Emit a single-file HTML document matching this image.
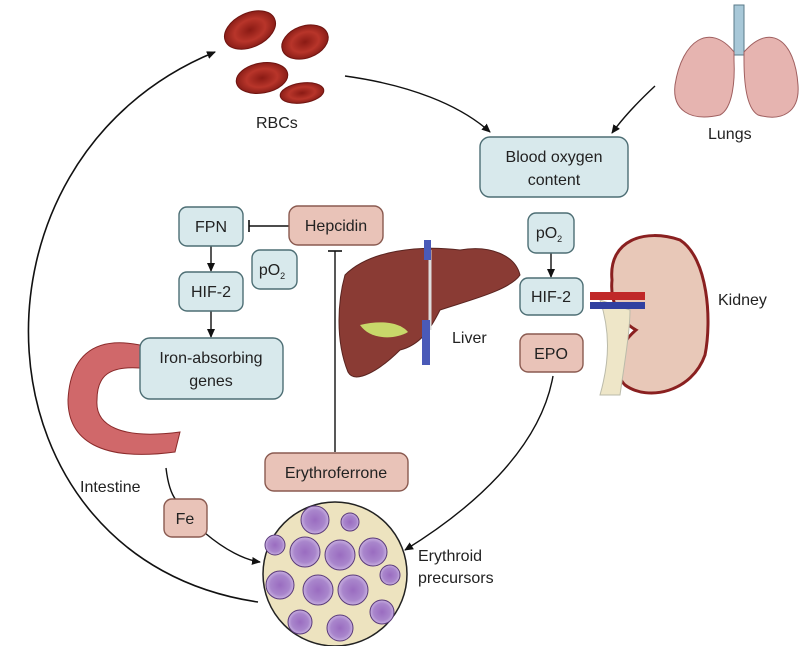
<!DOCTYPE html>
<html><head><style>
body{margin:0;background:#fff;}
svg text{font-family:"Liberation Sans",sans-serif;fill:#222;}
</style></head><body>
<svg width="800" height="646" viewBox="0 0 800 646" xmlns="http://www.w3.org/2000/svg">
<defs>
<marker id="a" markerWidth="10" markerHeight="10" refX="8" refY="5" orient="auto" markerUnits="userSpaceOnUse"><path d="M0,1 L9,5 L0,9 Z" fill="#111"/></marker>
<radialGradient id="rbc" cx="50%" cy="50%" r="50%"><stop offset="0" stop-color="#8a1a14"/><stop offset="0.6" stop-color="#b8352a"/><stop offset="1" stop-color="#8a1e18"/></radialGradient>
<radialGradient id="cell" cx="50%" cy="50%" r="50%"><stop offset="0" stop-color="#9a6cc0"/><stop offset="0.7" stop-color="#a986cc"/><stop offset="1" stop-color="#c8b0e0"/></radialGradient>
</defs>
<!-- connectors -->
<path d="M258,602 C-30,560 -50,160 215,52" fill="none" stroke="#111" stroke-width="1.6" marker-end="url(#a)"/>
<path d="M345,76 C410,85 460,105 490,132" fill="none" stroke="#111" stroke-width="1.4" marker-end="url(#a)"/>
<path d="M655,86 C640,100 625,115 612,133" fill="none" stroke="#111" stroke-width="1.4" marker-end="url(#a)"/>
<path d="M553,376 C540,450 470,510 405,550" fill="none" stroke="#111" stroke-width="1.4" marker-end="url(#a)"/>
<path d="M166,468 C168,485 172,495 176,500" fill="none" stroke="#111" stroke-width="1.4"/>
<path d="M205,533 C225,550 245,560 260,562" fill="none" stroke="#111" stroke-width="1.4" marker-end="url(#a)"/>
<line x1="289" y1="226" x2="249" y2="226" stroke="#111" stroke-width="1.4"/>
<line x1="249" y1="220" x2="249" y2="232" stroke="#111" stroke-width="1.6"/>
<line x1="335" y1="251" x2="335" y2="452" stroke="#111" stroke-width="1.4"/>
<line x1="328" y1="251" x2="342" y2="251" stroke="#111" stroke-width="1.6"/>
<line x1="211" y1="246" x2="211" y2="271" stroke="#111" stroke-width="1.4" marker-end="url(#a)"/>
<line x1="211" y1="311" x2="211" y2="337" stroke="#111" stroke-width="1.4" marker-end="url(#a)"/>
<line x1="551" y1="253" x2="551" y2="277" stroke="#111" stroke-width="1.4" marker-end="url(#a)"/>
<!-- RBCs -->
<g stroke="#6e1410" stroke-width="1">
<ellipse cx="250" cy="30" rx="27" ry="17" fill="url(#rbc)" transform="rotate(-25 250 30)"/>
<ellipse cx="305" cy="42" rx="24" ry="16" fill="url(#rbc)" transform="rotate(-20 305 42)"/>
<ellipse cx="262" cy="78" rx="26" ry="15" fill="url(#rbc)" transform="rotate(-10 262 78)"/>
<ellipse cx="302" cy="93" rx="22" ry="10" fill="url(#rbc)" transform="rotate(-8 302 93)"/>
</g>
<text x="256" y="128" font-size="16">RBCs</text>
<!-- lungs -->
<rect x="734" y="5" width="10" height="50" fill="#a8c8d8" stroke="#5a7a88"/>
<path d="M734,52 C710,22 682,40 675,85 C672,110 690,122 720,115 C733,108 735,80 734,60Z" fill="#e6b4b0" stroke="#a06060"/>
<path d="M744,52 C770,22 795,40 798,85 C800,112 782,122 758,115 C746,108 744,80 744,60Z" fill="#e6b4b0" stroke="#a06060"/>
<text x="708" y="139" font-size="16">Lungs</text>
<!-- liver -->
<path d="M345,275 C370,250 420,245 460,250 C490,245 515,255 520,275 C510,290 470,300 440,310 C430,330 420,345 400,350 C380,370 355,385 348,372 C335,340 338,300 345,275Z" fill="#8a3b34" stroke="#5a2420"/>
<path d="M430,250 L430,330" stroke="#ddd" stroke-width="3"/>
<path d="M360,325 C380,320 400,322 408,332 C395,340 370,340 360,325Z" fill="#c8d86a"/>
<rect x="424" y="240" width="7" height="20" fill="#4a5ab8"/>
<rect x="422" y="320" width="8" height="45" fill="#4a5ab8"/>
<text x="452" y="343" font-size="16">Liver</text>
<!-- kidney -->
<path d="M612,280 C608,240 645,228 680,240 C708,258 712,320 705,355 C692,392 648,402 625,385 C610,370 618,345 636,330 C618,320 610,300 612,280Z" fill="#e8c8b8" stroke="#8a2020" stroke-width="3"/>
<path d="M600,300 C610,330 610,360 600,395 L620,395 C625,360 630,330 630,310Z" fill="#eee6c8" stroke="#bba"/>
<rect x="590" y="292" width="55" height="8" fill="#c02828"/>
<rect x="590" y="302" width="55" height="7" fill="#3040a0"/>
<text x="718" y="305" font-size="16">Kidney</text>
<!-- intestine -->
<path d="M140,345 C90,335 70,360 68,400 C68,440 100,462 175,452 L180,432 C120,440 95,425 97,400 C97,375 110,366 140,368Z" fill="#d0686a" stroke="#8a2a2a"/>
<text x="80" y="492" font-size="16">Intestine</text>
<!-- precursor circle -->
<circle cx="335" cy="574" r="72" fill="#ede3bf" stroke="#222" stroke-width="1.5"/>
<g fill="url(#cell)" stroke="#5a3a7a" stroke-width="1">
<circle cx="315" cy="520" r="14"/><circle cx="350" cy="522" r="9"/><circle cx="305" cy="552" r="15"/><circle cx="340" cy="555" r="15"/><circle cx="373" cy="552" r="14"/><circle cx="280" cy="585" r="14"/><circle cx="318" cy="590" r="15"/><circle cx="353" cy="590" r="15"/><circle cx="390" cy="575" r="10"/><circle cx="300" cy="622" r="12"/><circle cx="340" cy="628" r="13"/><circle cx="382" cy="612" r="12"/><circle cx="275" cy="545" r="10"/>
</g>
<text x="418" y="561" font-size="16">Erythroid</text>
<text x="418" y="583" font-size="16">precursors</text>
<!-- boxes -->
<g stroke="#4d6e74" stroke-width="1.4" fill="#d8e9ec">
<rect x="480" y="137" width="148" height="60" rx="10"/>
<rect x="179" y="207" width="64" height="39" rx="8"/>
<rect x="252" y="250" width="45" height="39" rx="8"/>
<rect x="179" y="272" width="64" height="39" rx="8"/>
<rect x="140" y="338" width="143" height="61" rx="10"/>
<rect x="528" y="213" width="46" height="40" rx="8"/>
<rect x="520" y="278" width="63" height="37" rx="8"/>
</g>
<g stroke="#8a5a50" stroke-width="1.4" fill="#e9c3b8">
<rect x="289" y="206" width="94" height="39" rx="9"/>
<rect x="520" y="334" width="63" height="38" rx="8"/>
<rect x="265" y="453" width="143" height="38" rx="9"/>
<rect x="164" y="499" width="43" height="38" rx="8"/>
</g>
<g font-size="16" text-anchor="middle">
<text x="554" y="162">Blood oxygen</text><text x="554" y="185">content</text>
<text x="211" y="232">FPN</text>
<text x="336" y="231">Hepcidin</text>
<text x="272" y="275">pO<tspan font-size="9" dy="4">2</tspan></text>
<text x="211" y="297">HIF-2</text>
<text x="211" y="363">Iron-absorbing</text><text x="211" y="386">genes</text>
<text x="549" y="238">pO<tspan font-size="9" dy="4">2</tspan></text>
<text x="551" y="302">HIF-2</text>
<text x="551" y="359">EPO</text>
<text x="336" y="478">Erythroferrone</text>
<text x="185" y="524">Fe</text>
</g>
</svg>
</body></html>
